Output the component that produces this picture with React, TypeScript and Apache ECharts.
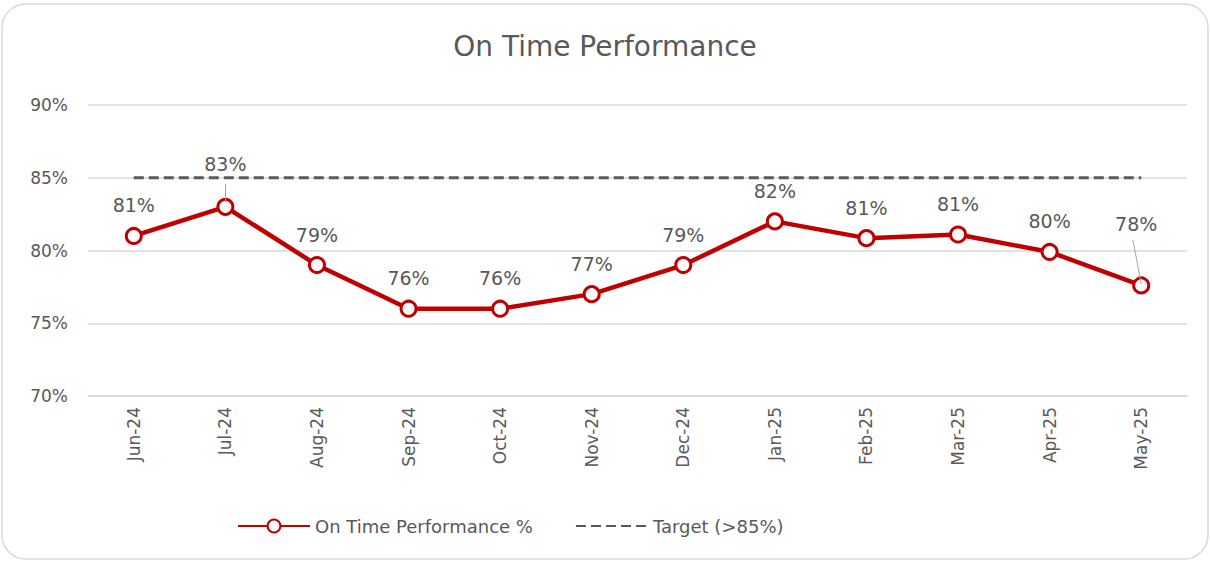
import React, { useEffect, useRef } from "react";
import * as echarts from "echarts";

const categories = ["Jun-24", "Jul-24", "Aug-24", "Sep-24", "Oct-24", "Nov-24", "Dec-24", "Jan-25", "Feb-25", "Mar-25", "Apr-25", "May-25"];
const otpValues = [81.0, 83.0, 79.0, 76.0, 76.0, 77.0, 79.0, 82.0, 80.85, 81.1, 79.9, 77.6];
const targetValues = [85, 85, 85, 85, 85, 85, 85, 85, 85, 85, 85, 85];
const seriesNames = ["On Time Performance %", "Target (>85%)"];
const titleText = "On Time Performance";

const FONT = "'DejaVu Sans', sans-serif";
const GRAY = "#595959";
const RED = "#C00000";

export default function App() {
  const ref = useRef<HTMLDivElement>(null);
  useEffect(() => {
    document.body.style.margin = "0";
    const chart = echarts.init(ref.current!, null, { renderer: "svg" });
    const otpData = otpValues.map((v, i) => {
      const item: any = { value: v };
      if (i === 1) item.label = { offset: [0, -12] };
      if (i === 11) item.label = { offset: [-5, -31] };
      return item;
    });
    chart.setOption({
      animation: false,
      textStyle: { fontFamily: FONT },
      graphic: [
        {
          type: "rect",
          shape: { x: 2, y: 4, width: 1206, height: 555, r: 24 },
          style: { fill: "#fff", stroke: "#d9d9d9", lineWidth: 1.5 },
          z: -10,
        },
      ],
      title: {
        text: titleText,
        left: "center",
        top: 27,
        textStyle: { fontFamily: FONT, fontSize: 28, fontWeight: "normal", color: GRAY },
      },
      grid: { left: 88, right: 23, top: 105, bottom: 166, containLabel: false },
      legend: {
        top: 512,
        left: 232,
        itemWidth: 72,
        itemHeight: 16,
        itemGap: 42,
        textStyle: { fontFamily: FONT, fontSize: 18, color: GRAY },
        data: [
          { name: seriesNames[0] },
          { name: seriesNames[1], itemStyle: { opacity: 0 } },
        ],
      },
      xAxis: [
        {
          type: "category",
          data: categories,
          boundaryGap: true,
          axisLine: { show: true, lineStyle: { color: "#d9d9d9", width: 1.5 } },
          axisTick: { show: false },
          axisLabel: { rotate: 90, fontFamily: FONT, fontSize: 17, color: GRAY, margin: 11 },
        },
        { type: "value", min: -0.5, max: 11.5, show: false },
      ],
      yAxis: {
        type: "value",
        min: 70,
        max: 90,
        interval: 5,
        axisLine: { show: false },
        axisTick: { show: false },
        splitLine: { lineStyle: { color: "#d9d9d9", width: 1.5 } },
        axisLabel: { formatter: (v: number) => v + "%", fontFamily: FONT, fontSize: 17, color: GRAY, margin: 20 },
      },
      series: [
        {
          name: seriesNames[1],
          type: "line",
          data: targetValues,
          symbol: "none",
          lineStyle: { color: GRAY, width: 3, type: [10, 5] },
          itemStyle: { color: GRAY },
          z: 2,
        },
        {
          name: "leaders",
          type: "line",
          xAxisIndex: 1,
          data: [],
          markLine: {
            silent: true,
            symbol: "none",
            label: { show: false },
            lineStyle: { color: "#a6a6a6", width: 1, type: "solid" },
            data: [
              [{ coord: [1, 83.3] }, { coord: [1, 84.6] }],
              [{ coord: [11, 77.7] }, { coord: [10.91, 80.7] }],
            ],
          },
          z: 1,
        },
        {
          name: seriesNames[0],
          type: "line",
          data: otpData,
          symbol: "circle",
          symbolSize: 15,
          lineStyle: { color: RED, width: 4.5 },
          itemStyle: { color: "#fff", borderColor: RED, borderWidth: 3 },
          label: {
            show: true,
            position: "top",
            distance: 12,
            formatter: (p: any) => Math.round(p.value) + "%",
            fontFamily: FONT,
            fontSize: 19,
            color: GRAY,
          },
          z: 3,
        },
      ],
    });
    return () => chart.dispose();
  }, []);
  return <div ref={ref} style={{ width: 1210, height: 562 }} />;
}
